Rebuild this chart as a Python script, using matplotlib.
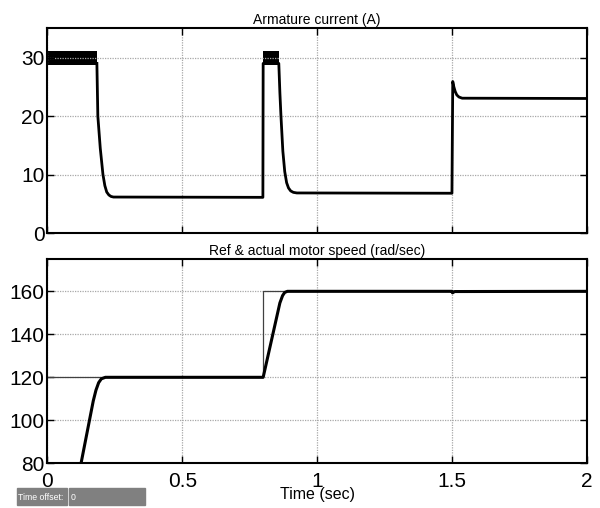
import matplotlib
matplotlib.use("Agg")
import matplotlib.pyplot as plt
from matplotlib.patches import Rectangle

plt.rcParams['font.family'] = ['Liberation Sans', 'DejaVu Sans']

# ---- data ----
# armature current (A): ripple bands (envelopes) and smooth segments
band1_t = [0.0, 0.1835]
band1_lo = [28.8, 28.8]
band1_hi = [31.2, 31.2]
band2_t = [0.799, 0.858]
band2_lo = [28.7, 28.7]
band2_hi = [31.2, 31.2]

cur_t = [0.1835, 0.187, 0.196, 0.206, 0.213, 0.220, 0.228, 0.236, 0.245,
         0.799, 0.800,
         0.858, 0.862, 0.866, 0.873, 0.880, 0.887, 0.894, 0.902, 0.912,
         0.925, 1.500, 1.503, 1.507, 1.512, 1.518, 1.526, 1.538, 2.000]
cur_v = [29.0, 20.0, 14.5, 10.0, 8.1, 7.0, 6.5, 6.25, 6.15,
         6.1, 29.0,
         29.0, 24.0, 20.0, 14.0, 10.5, 8.6, 7.7, 7.2, 6.95,
         6.85, 6.8, 25.9, 25.0, 24.2, 23.6, 23.25, 23.05, 23.0]

# reference speed (rad/s)
ref_t = [0.0, 0.800, 0.800, 2.000]
ref_v = [120.0, 120.0, 160.0, 160.0]

# actual speed (rad/s)
spd_t = [0.0, 0.170, 0.180, 0.190, 0.200, 0.215, 0.800, 0.862, 0.872,
         0.880, 0.890, 1.500, 1.502, 1.510, 2.000]
spd_v = [0.0, 109.0, 114.0, 117.5, 119.3, 120.0, 120.0, 154.6, 158.0,
         159.5, 160.0, 160.0, 159.3, 159.9, 160.0]

xticks = [0, 0.5, 1, 1.5, 2]
xticklabels = ['0', '0.5', '1', '1.5', '2']
cur_yticks = [0, 10, 20, 30]
spd_yticks = [80, 100, 120, 140, 160]

fig = plt.figure(figsize=(6.0, 5.08), dpi=100)
ax1 = fig.add_axes([0.079, 0.5413, 0.899, 0.403])
ax2 = fig.add_axes([0.079, 0.088, 0.899, 0.402])

grid_kw = dict(color='#a8a8a8', linestyle=(0, (1, 1)), linewidth=0.9)

for ax in (ax1, ax2):
    ax.set_xlim(0, 2)
    ax.set_xticks(xticks)
    ax.grid(True, **grid_kw)
    ax.tick_params(direction='in', top=True, right=True, length=5,
                   width=1.0, labelsize=15, pad=2, colors='black')
    for s in ax.spines.values():
        s.set_linewidth(1.5)
        s.set_color('black')

# top: armature current
ax1.fill_between(band1_t, band1_lo, band1_hi, color='black', linewidth=0)
ax1.fill_between(band2_t, band2_lo, band2_hi, color='black', linewidth=0)
ax1.plot(cur_t, cur_v, color='black', linewidth=2.0, solid_joinstyle='round')
ax1.set_ylim(0, 35)
ax1.set_yticks(cur_yticks)
ax1.set_xticklabels([])
ax1.set_title('Armature current (A)', fontsize=10, pad=3)

# bottom: speeds
ax2.plot(ref_t, ref_v, color='#404040', linewidth=0.9)
ax2.plot(spd_t, spd_v, color='black', linewidth=2.2, solid_joinstyle='round')
ax2.set_ylim(80, 175)
ax2.set_yticks(spd_yticks)
ax2.set_xticklabels(xticklabels)
ax2.tick_params(axis='x', pad=6)
ax2.set_title('Ref & actual motor speed (rad/sec)', fontsize=10, pad=3)

fig.text(0.53, 0.012, 'Time (sec)', fontsize=11.5, ha='center', va='bottom')

# "Time offset" scope footer
fig.patches.append(Rectangle((17/600, 1-505/508), 50/600, 17/508,
                             transform=fig.transFigure, color='#808080'))
fig.patches.append(Rectangle((69/600, 1-505/508), 76/600, 17/508,
                             transform=fig.transFigure, color='#808080'))
fig.text(18/600, 1-497/508, 'Time offset:', fontsize=6.3, color='white',
         va='center', ha='left')
fig.text(71/600, 1-497/508, '0', fontsize=6.3, color='white',
         va='center', ha='left')

fig.savefig('out.png', dpi=100)
